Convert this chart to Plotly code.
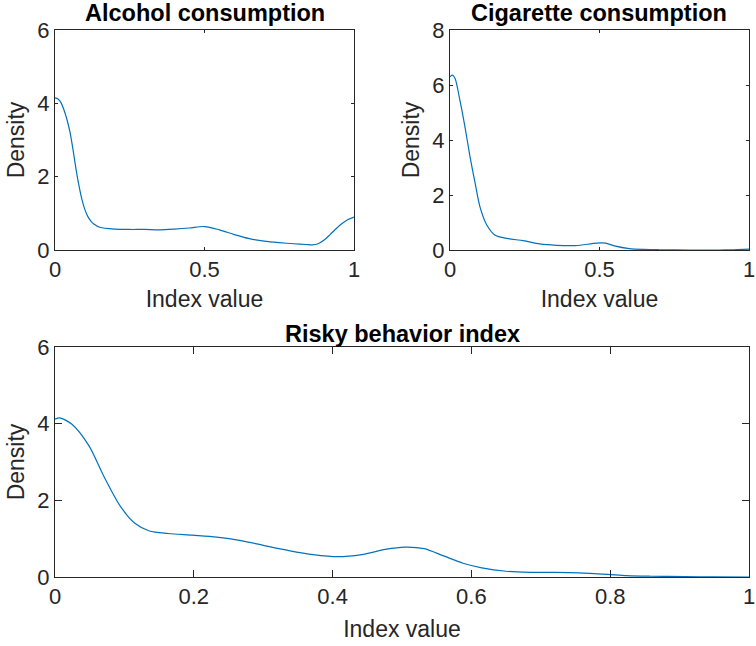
import plotly.graph_objects as go

# Kernel density estimates of each index (x = index value, y = density)
alcohol_x = [0, 0.01, 0.02, 0.03, 0.04, 0.05, 0.06, 0.07, 0.08, 0.09, 0.10, 0.11, 0.12, 0.13,
             0.15, 0.2, 0.25, 0.3, 0.35, 0.4, 0.45, 0.5, 0.55, 0.6, 0.65, 0.7, 0.75, 0.8,
             0.84, 0.86, 0.88, 0.9, 0.92, 0.94, 0.96, 0.98, 1.0]
alcohol_y = [4.15, 4.12, 4.02, 3.82, 3.56, 3.22, 2.75, 2.22, 1.76, 1.38, 1.1, 0.91, 0.79, 0.71,
             0.62, 0.57, 0.56, 0.56, 0.55, 0.57, 0.6, 0.64, 0.55, 0.42, 0.31, 0.24, 0.2, 0.17,
             0.15, 0.14, 0.17, 0.27, 0.42, 0.58, 0.72, 0.83, 0.9]

cigarette_x = [0, 0.008, 0.017, 0.033, 0.05, 0.067, 0.084, 0.1, 0.123, 0.15, 0.19, 0.245,
               0.3, 0.356, 0.42, 0.49, 0.52, 0.55, 0.6, 0.65, 0.7, 0.8, 0.9, 0.95, 1.0]
cigarette_y = [6.3, 6.36, 6.24, 5.45, 4.48, 3.39, 2.43, 1.58, 0.91, 0.55, 0.42, 0.34,
               0.22, 0.17, 0.16, 0.25, 0.25, 0.15, 0.05, 0.02, 0.01, 0.0, 0.0, 0.01, 0.03]

risky_x = [0, 0.007, 0.024, 0.049, 0.07, 0.094, 0.115, 0.136, 0.163, 0.198, 0.233, 0.268,
           0.302, 0.337, 0.372, 0.407, 0.442, 0.476, 0.504, 0.532, 0.56, 0.588, 0.615,
           0.65, 0.685, 0.72, 0.755, 0.796, 0.824, 0.859, 0.907, 0.95, 1.0]
risky_y = [4.12, 4.15, 3.99, 3.42, 2.64, 1.85, 1.4, 1.2, 1.135, 1.09, 1.04, 0.95,
           0.82, 0.69, 0.585, 0.53, 0.585, 0.72, 0.78, 0.74, 0.55, 0.36, 0.24,
           0.15, 0.12, 0.12, 0.11, 0.07, 0.035, 0.02, 0.01, 0.003, 0.0]

panel_titles = ["Alcohol consumption", "Cigarette consumption", "Risky behavior index"]
x_label = "Index value"
y_label = "Density"

LINE_BLUE = "#0072BD"
AXIS_GREY = "#262626"
FONT = "Liberation Sans, Arial, sans-serif"

W, H = 756, 646

fig = go.Figure()
for i, (xs, ys) in enumerate([(alcohol_x, alcohol_y), (cigarette_x, cigarette_y), (risky_x, risky_y)]):
    suffix = "" if i == 0 else str(i + 1)
    fig.add_trace(go.Scatter(
        x=xs, y=ys, mode="lines",
        line=dict(color=LINE_BLUE, width=1.2, shape="spline", smoothing=0.8),
        xaxis="x" + suffix, yaxis="y" + suffix, showlegend=False, hoverinfo="skip",
    ))

# pixel boxes of the three axes (left, right, top, bottom)
boxes = [(55, 354, 30, 250), (450, 749, 30, 250), (55, 749, 347, 577)]
y_ranges = [[0, 6], [0, 8], [0, 6]]
tick_lens = [3, 3, 7]
x_tickvals = [[0, 0.5, 1], [0, 0.5, 1], [0, 0.2, 0.4, 0.6, 0.8, 1]]
x_ticktext = [["0", "0.5", "1"], ["0", "0.5", "1"], ["0", "0.2", "0.4", "0.6", "0.8", "1"]]
x_title_standoff = [9, 9, 12]
title_shift = [2, 2, -2]

layout = dict(
    width=W, height=H,
    margin=dict(l=0, r=0, t=0, b=0),
    paper_bgcolor="white", plot_bgcolor="white",
    font=dict(family=FONT, size=22, color=AXIS_GREY),
    showlegend=False,
)

annotations = []
for i, (l, r, t, b) in enumerate(boxes):
    suffix = "" if i == 0 else str(i + 1)
    xd = [l / W, r / W]
    yd = [1 - b / H, 1 - t / H]
    common = dict(
        showline=True, linecolor=AXIS_GREY, linewidth=1, mirror="ticks",
        ticks="inside", ticklen=tick_lens[i], tickwidth=1, tickcolor=AXIS_GREY,
        showgrid=False, zeroline=False, automargin=False,
        tickfont=dict(family=FONT, size=22, color=AXIS_GREY),
    )
    xa = dict(common, domain=xd, range=[0, 1], anchor="y" + suffix,
              tickvals=x_tickvals[i], ticktext=x_ticktext[i],
              title=dict(text=x_label, font=dict(family=FONT, size=23, color=AXIS_GREY),
                         standoff=x_title_standoff[i]))
    ya = dict(common, domain=yd, range=y_ranges[i], dtick=2, tick0=0,
              anchor="x" + suffix,
              title=dict(text=y_label, font=dict(family=FONT, size=23, color=AXIS_GREY), standoff=6))
    layout["xaxis" + suffix] = xa
    layout["yaxis" + suffix] = ya
    annotations.append(dict(
        text="<b>" + panel_titles[i] + "</b>", x=(xd[0] + xd[1]) / 2, y=yd[1],
        xref="paper", yref="paper", xanchor="center", yanchor="bottom", yshift=title_shift[i],
        showarrow=False, font=dict(family=FONT, size=23.5, color="black"),
    ))

layout["annotations"] = annotations
fig.update_layout(**layout)
fig.write_html("out.html")
